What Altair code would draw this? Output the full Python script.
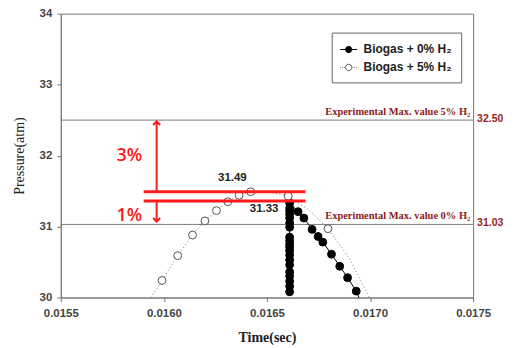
import altair as alt
import pandas as pd

# ---- data ----
series_names = ["Biogas + 0% H\u2082", "Biogas + 5% H\u2082"]

# Biogas + 0% H2: vertical stack (bottom -> top) then falling branch
h0_time = [0.01661] * 20 + [0.016651, 0.016679, 0.016719, 0.016748, 0.016771,
                            0.016813, 0.016853, 0.016891, 0.016933]
h0_pres = [30.08, 30.16, 30.23, 30.30, 30.36, 30.46, 30.53, 30.60, 30.66, 30.71,
           30.75, 30.80, 30.85, 30.99, 31.05, 31.12, 31.175, 31.22, 31.26, 31.33,
           31.21, 31.12, 30.96, 30.86, 30.78, 30.61, 30.44, 30.28, 30.09]
h0_tail_time = [0.016933, 0.016975]
h0_tail_pres = [30.09, 29.8]

# Biogas + 5% H2 (open circles)
h5_time = [0.015991, 0.016067, 0.016139, 0.016199, 0.016255, 0.016310,
           0.016365, 0.016421, 0.016603, 0.016796]
h5_pres = [30.24, 30.59, 30.88, 31.08, 31.225, 31.35, 31.44, 31.49, 31.43, 30.97]
# dotted curve through the open circles
fit_time = [0.015938, 0.015991, 0.016067, 0.016139, 0.016199, 0.016255, 0.016310,
            0.016365, 0.016421, 0.016510, 0.016603, 0.016700, 0.016796, 0.016900, 0.017000]
fit_pres = [30.00, 30.24, 30.59, 30.88, 31.08, 31.225, 31.35, 31.44, 31.49, 31.49,
            31.43, 31.24, 30.97, 30.55, 29.98]

ref_levels = [32.50, 31.03]
ref_labels = ["32.50", "31.03"]
ref_texts = ["Experimental Max. value 5% H\u2082", "Experimental Max. value 0% H\u2082"]

peak_levels = [31.49, 31.36]
peak_labels = ["31.49", "31.33"]
peak_label_time = [0.016332, 0.016486]
peak_label_pres = [31.69, 31.25]
red_line_start = 0.015902
red_line_end = 0.016687

arrow_time = 0.015965
arrow_from = [31.49, 31.36]
arrow_to = [32.48, 31.07]
pct_labels = ["3%", "1%"]
pct_time = 0.015833
pct_pres = [31.99, 31.15]

# legend glyphs: short line + circle (solid for 0%, dotted for 5%)
circle_path = "M-0.45,0A0.45,0.45 0 1,1 0.45,0A0.45,0.45 0 1,1 -0.45,0Z"
legend_shapes = [
    "M-1.2,0L-0.45,0M0.45,0L1.2,0" + circle_path,
    "M-1.2,0L-1.1,0M-0.9,0L-0.8,0M-0.65,0L-0.55,0M0.55,0L0.65,0M0.8,0L0.9,0M1.1,0L1.2,0" + circle_path,
]

# ---- tables ----
df0 = pd.DataFrame({"t": h0_time, "p": h0_pres, "order": list(range(len(h0_time)))})
df0tail = pd.DataFrame({"t": h0_tail_time, "p": h0_tail_pres})
df5 = pd.DataFrame({"t": h5_time, "p": h5_pres})
dflegend = pd.DataFrame({"t": [h0_time[0], h5_time[0]], "p": [h0_pres[0], h5_pres[0]],
                         "series": series_names})
dffit = pd.DataFrame({"t": fit_time, "p": fit_pres})
dfref = pd.DataFrame({"p": ref_levels, "lab": ref_labels, "txt": ref_texts,
                      "tmin": 0.0155, "tmax": 0.0175})
dfpeak = pd.DataFrame({"p": peak_levels, "t1": red_line_start, "t2": red_line_end})
dfpeaklab = pd.DataFrame({"t": peak_label_time, "p": peak_label_pres, "lab": peak_labels})
dfarrow = pd.DataFrame({"t": arrow_time, "p1": arrow_from, "p2": arrow_to,
                        "dir": ["up", "down"]})
dfpct = pd.DataFrame({"t": pct_time, "p": pct_pres, "lab": pct_labels})

xs = alt.Scale(domain=[0.0155, 0.0175], nice=False, zero=False)
ys = alt.Scale(domain=[30, 34], nice=False, zero=False)

x_axis = alt.Axis(title="Time(sec)", values=[0.0155, 0.0160, 0.0165, 0.0170, 0.0175],
                  format=".4f", labelFlush=False, grid=False, titlePadding=12,
                  titleFont="Liberation Serif", titleFontSize=14, titleFontWeight="bold",
                  titleColor="#222")
y_axis = alt.Axis(title="Pressure(atm)", values=[30, 31, 32, 33, 34], format="d",
                  grid=False, titlePadding=13,
                  titleFont="Liberation Serif", titleFontSize=14, titleFontWeight="normal",
                  titleColor="#222")
Xp = alt.X("t:Q", scale=xs)
Yp = alt.Y("p:Q", scale=ys)

refrule = alt.Chart(dfref).mark_rule(color="#7a7a7a", strokeWidth=1).encode(
    x=alt.X("tmin:Q", scale=xs, axis=x_axis), x2="tmax:Q",
    y=alt.Y("p:Q", scale=ys, axis=y_axis))
reftxt = alt.Chart(dfref).mark_text(align="right", baseline="bottom", dx=-3, dy=-3,
                                    font="Liberation Serif", fontWeight="bold", fontSize=10.5,
                                    color="#8b1a1a").encode(
    x=alt.X("tmax:Q", scale=xs), y=Yp, text="txt:N")
reflab = alt.Chart(dfref).mark_text(align="left", baseline="middle", dx=4, dy=-1,
                                    font="Liberation Sans", fontWeight="bold", fontSize=10.5,
                                    color="#9b2020").encode(
    x=alt.X("tmax:Q", scale=xs), y=Yp, text="lab:N")

fit = alt.Chart(dffit).mark_line(color="#777", strokeWidth=1, strokeDash=[1, 2.5],
                                 clip=True).encode(x=Xp, y=Yp)
line0 = alt.Chart(df0).mark_line(color="black", strokeWidth=1).encode(
    x=Xp, y=Yp, order="order:Q")
tail0 = alt.Chart(df0tail).mark_line(color="black", strokeWidth=1, clip=True).encode(
    x=Xp, y=Yp)

pts0 = alt.Chart(df0).mark_point(shape="circle", size=62, strokeWidth=1, opacity=1,
                                 fill="black", stroke="black").encode(x=Xp, y=Yp)
pts5 = alt.Chart(df5).mark_point(shape="circle", size=62, strokeWidth=1, opacity=1,
                                 fill="white", stroke="#555").encode(x=Xp, y=Yp)

leg = alt.Legend(title=None, orient="none", legendX=272, legendY=19,
                 strokeColor="#666", fillColor="white", padding=9,
                 rowPadding=4, labelFont="Liberation Sans", labelOffset=7,
                 labelFontWeight="bold", labelFontSize=12,
                 labelColor="#222", symbolSize=200, symbolStrokeWidth=1,
                 symbolOpacity=1)
legend_layer = alt.Chart(dflegend).mark_point(opacity=0, size=1).encode(
    x=Xp, y=Yp,
    shape=alt.Shape("series:N", scale=alt.Scale(domain=series_names, range=legend_shapes),
                    legend=leg),
    fill=alt.Fill("series:N", scale=alt.Scale(domain=series_names, range=["black", "white"]),
                  legend=leg),
    stroke=alt.Stroke("series:N", scale=alt.Scale(domain=series_names, range=["black", "#555"]),
                      legend=leg))

redlines = alt.Chart(dfpeak).mark_rule(color="#ff1a1a", strokeWidth=3).encode(
    x=alt.X("t1:Q", scale=xs), x2="t2:Q", y=Yp)
arrows = alt.Chart(dfarrow).mark_rule(color="#ff1a1a", strokeWidth=2).encode(
    x=Xp, y=alt.Y("p1:Q", scale=ys), y2="p2:Q")
head_up = alt.Chart(dfarrow[dfarrow["dir"] == "up"]).mark_point(
    shape="M-1,1L0,0L1,1", size=50, color="#ff1a1a", strokeWidth=2, filled=False, opacity=1).encode(
    x=Xp, y=alt.Y("p2:Q", scale=ys))
head_dn = alt.Chart(dfarrow[dfarrow["dir"] == "down"]).mark_point(
    shape="M-1,-1L0,0L1,-1", size=50, color="#ff1a1a", strokeWidth=2, filled=False, opacity=1).encode(
    x=Xp, y=alt.Y("p2:Q", scale=ys))
pct = alt.Chart(dfpct).mark_text(font="Open Sans", fontSize=18, fontWeight=600,
                                 color="#ff1a1a").encode(x=Xp, y=Yp, text="lab:N")
peaklab = alt.Chart(dfpeaklab).mark_text(font="Liberation Sans", fontWeight="bold", fontSize=11.5,
                                         color="#222").encode(x=Xp, y=Yp, text="lab:N")

chart = alt.layer(refrule, reftxt, reflab, fit, tail0, line0, pts0, pts5, legend_layer,
                  redlines, arrows, head_up, head_dn, pct, peaklab).properties(
    width=414, height=285,
    autosize=alt.AutoSizeParams(type="none"),
    padding={"left": 53, "top": 5, "right": 35, "bottom": 48},
).configure_view(stroke="#777", strokeWidth=1).configure_axis(
    domainColor="#777", tickColor="#777", tickSize=4, labelPadding=5,
    labelFont="Liberation Sans", labelFontWeight="bold", labelFontSize=11.5, labelColor="#444"
).configure_axisX(labelPadding=6)

chart.save("out.html", embed_options={"renderer": "svg", "actions": False})
